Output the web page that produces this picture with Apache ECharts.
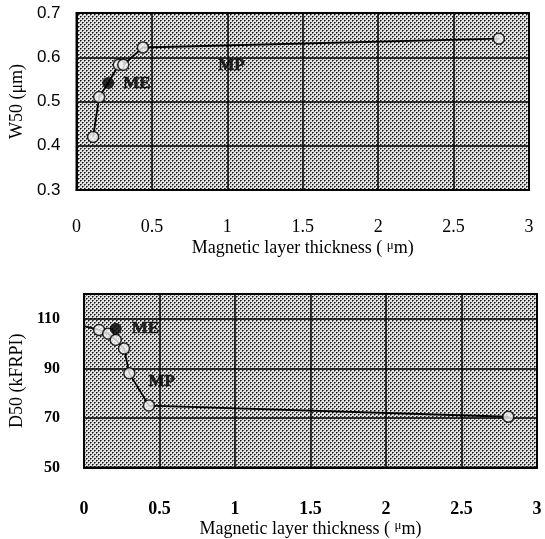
<!DOCTYPE html>
<html><head><meta charset="utf-8">
<script src="https://cdn.jsdelivr.net/npm/echarts@6/dist/echarts.min.js"></script>
<style>html,body{margin:0;padding:0;background:#fff}#c{width:545px;height:539px}</style>
</head><body><div id="c"></div>
<script>
// ---- data ----
const xTicks = [0, 0.5, 1, 1.5, 2, 2.5, 3];
const w50Ticks = [0.3, 0.4, 0.5, 0.6, 0.7];
const d50Ticks = [50, 70, 90, 110];

const w50LineX = [0.11, 0.15, 0.21, 0.28, 0.31, 0.44, 2.8];
const w50LineY = [0.42, 0.51, 0.542, 0.583, 0.583, 0.622, 0.642];
const w50MpX = [0.11, 0.15, 0.28, 0.31, 0.44, 2.8];
const w50MpY = [0.42, 0.51, 0.583, 0.583, 0.622, 0.642];
const w50MeX = [0.21];
const w50MeY = [0.542];

const d50LineX = [0.0, 0.10, 0.16, 0.21, 0.265, 0.30, 0.43, 2.81];
const d50LineY = [107, 105.5, 104, 101.5, 98, 88, 75, 70.5];
const d50MpX = [0.10, 0.16, 0.21, 0.265, 0.30, 0.43, 2.81];
const d50MpY = [105.5, 104, 101.5, 98, 88, 75, 70.5];
const d50MeX = [0.21];
const d50MeY = [106];

const labelME = 'ME';
const labelMP = 'MP';
const xName = 'Magnetic layer thickness ( {mu|μ}m)';
const w50Name = 'W50 (μm)';
const d50Name = 'D50 (kFRPI)';

// ---- helpers ----
const zip = (xs, ys) => xs.map((x, i) => [x, ys[i]]);
const tile = document.createElement('canvas');
tile.width = 4; tile.height = 4;
const g = tile.getContext('2d');
g.fillStyle = '#e2e2e2'; g.fillRect(0, 0, 4, 4);
g.fillStyle = '#111'; g.fillRect(0, 0, 1, 1); g.fillRect(2, 2, 1, 1);
g.fillStyle = '#6a6a6a'; g.fillRect(1, 0, 1, 1); g.fillRect(3, 2, 1, 1); g.fillRect(0, 1, 1, 1); g.fillRect(2, 3, 1, 1);
const pattern = { image: tile, repeat: 'repeat' };

const serif = '"Liberation Serif", "Times New Roman", serif';
const sans = '"Liberation Sans", Arial, sans-serif';
const gridLine = { show: true, lineStyle: { color: '#000', width: 1.5 } };

function xAxis(gridIndex, margin) {
  return {
    type: 'value', gridIndex, min: xTicks[0], max: xTicks[xTicks.length - 1], interval: 0.5,
    axisLine: { show: true, lineStyle: { color: '#000', width: 2 } },
    axisTick: { show: false },
    splitLine: gridLine,
    axisLabel: { margin, color: '#000', fontFamily: serif, fontSize: 18, fontWeight: gridIndex ? 'bold' : 'normal' },
    name: xName, nameLocation: 'middle', nameGap: 49,
    nameTextStyle: { color: '#000', fontFamily: serif, fontSize: 18,
      rich: { mu: { fontFamily: serif, fontSize: 13, verticalAlign: 'top', padding: [0, 0, 6, 0] } } }
  };
}

const mpItem = { symbol: 'circle', symbolSize: 11, itemStyle: { color: '#f4f4f4', borderColor: '#000', borderWidth: 1.5 } };
const meItem = { symbol: 'circle', symbolSize: 12, itemStyle: { color: '#000' } };
const lblStyle = { color: '#000', fontFamily: serif, fontWeight: 900, fontSize: 17, textBorderColor: '#000', textBorderWidth: 0.6 };

const w50Mp = zip(w50MpX, w50MpY).map((v, i) => i === 4 ?
  { value: v, label: Object.assign({ show: true, formatter: labelMP, position: 'right', distance: 69, offset: [0, 18] }, lblStyle) } : v);
const d50Mp = zip(d50MpX, d50MpY).map((v, i) => i === 4 ?
  { value: v, label: Object.assign({ show: true, formatter: labelMP, position: 'right', distance: 13, offset: [0, 8] }, lblStyle) } : v);

const chart = echarts.init(document.getElementById('c'), null, { renderer: 'canvas' });
chart.setOption({
  backgroundColor: '#fff',
  animation: false,
  grid: [
    { left: 69, top: 13, width: 460, height: 177, show: true, backgroundColor: pattern, borderColor: '#000', borderWidth: 2 },
    { left: 74, top: 294, width: 463, height: 174, show: true, backgroundColor: pattern, borderColor: '#000', borderWidth: 2 }
  ],
  xAxis: [xAxis(0, 28), xAxis(1, 33)],
  yAxis: [
    {
      type: 'value', gridIndex: 0, min: w50Ticks[0], max: w50Ticks[w50Ticks.length - 1], interval: 0.1,
      axisLine: { show: true, lineStyle: { color: '#000', width: 2 } }, axisTick: { show: false },
      splitLine: gridLine,
      axisLabel: { margin: 16, color: '#000', fontFamily: sans, fontSize: 17, formatter: v => v.toFixed(1) },
      name: w50Name, nameLocation: 'middle', nameGap: 46,
      nameTextStyle: { color: '#000', fontFamily: serif, fontSize: 18 }
    },
    {
      type: 'value', gridIndex: 1, min: d50Ticks[0], max: 120, interval: 20,
      axisLine: { show: true, lineStyle: { color: '#000', width: 2 } }, axisTick: { show: false },
      splitLine: gridLine,
      axisLabel: { margin: 24, color: '#000', fontFamily: serif, fontWeight: 'bold', fontSize: 16,
        formatter: v => (d50Ticks.indexOf(v) >= 0 ? String(v) : '') },
      name: d50Name, nameLocation: 'middle', nameGap: 45,
      nameTextStyle: { color: '#000', fontFamily: serif, fontSize: 18 }
    }
  ],
  series: [
    { type: 'line', xAxisIndex: 0, yAxisIndex: 0, data: zip(w50LineX, w50LineY), symbol: 'none',
      lineStyle: { color: '#000', width: 1.8 }, z: 3 },
    Object.assign({ type: 'scatter', name: labelMP, xAxisIndex: 0, yAxisIndex: 0, data: w50Mp, z: 4 }, mpItem),
    Object.assign({ type: 'scatter', name: labelME, xAxisIndex: 0, yAxisIndex: 0, z: 5,
      data: zip(w50MeX, w50MeY).map(v => ({ value: v,
        label: Object.assign({ show: true, formatter: labelME, position: 'right', distance: 9, offset: [0, 1] }, lblStyle) })) }, meItem),
    { type: 'line', xAxisIndex: 1, yAxisIndex: 1, data: zip(d50LineX, d50LineY), symbol: 'none',
      lineStyle: { color: '#000', width: 1.8 }, z: 3 },
    Object.assign({ type: 'scatter', name: labelMP, xAxisIndex: 1, yAxisIndex: 1, data: d50Mp, z: 4 }, mpItem),
    Object.assign({ type: 'scatter', name: labelME, xAxisIndex: 1, yAxisIndex: 1, z: 5,
      data: zip(d50MeX, d50MeY).map(v => ({ value: v,
        label: Object.assign({ show: true, formatter: labelME, position: 'right', distance: 10, offset: [0, 0] }, lblStyle) })) }, meItem)
  ]
});
</script>
</body></html>
